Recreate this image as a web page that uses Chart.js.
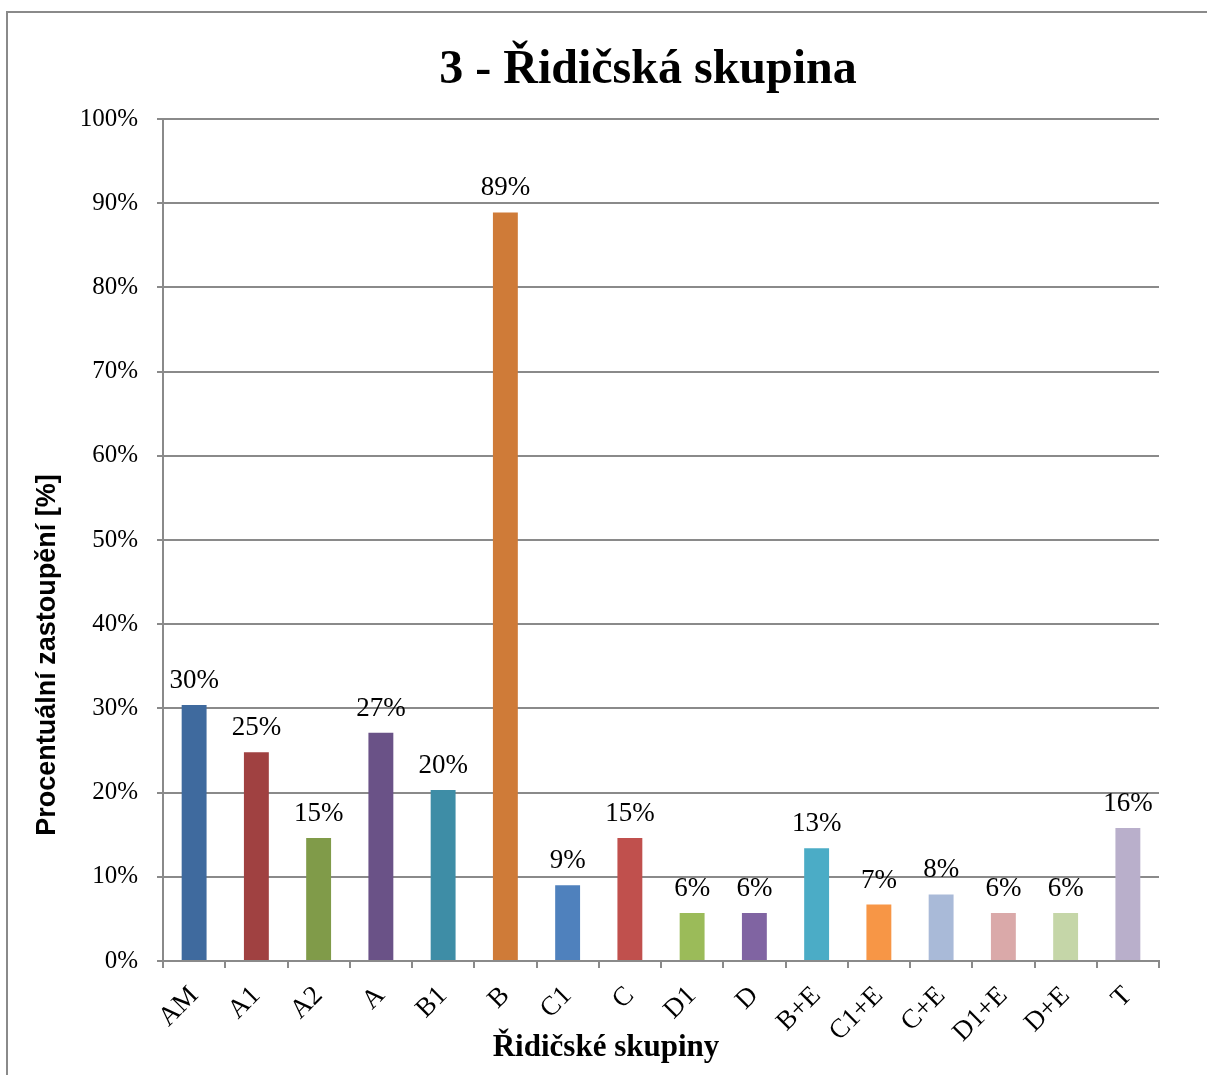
<!DOCTYPE html>
<html>
<head>
<meta charset="utf-8">
<script src="https://cdn.jsdelivr.net/npm/chart.js@4/dist/chart.umd.min.js"></script>
<style>
  html, body { margin: 0; padding: 0; background: #ffffff; }
  #wrap { width: 1207px; height: 1075px; position: relative; }
  canvas { display: block; }
</style>
</head>
<body>
<div id="wrap"><canvas id="c" width="1207" height="1075"></canvas></div>
<script>
// ---- Data ----
const chartTitle = '3 - Řidičská skupina';
const xAxisTitle = 'Řidičské skupiny';
const yAxisTitle = 'Procentuální zastoupění [%]';
const categories = ['AM', 'A1', 'A2', 'A', 'B1', 'B', 'C1', 'C', 'D1', 'D', 'B+E', 'C1+E', 'C+E', 'D1+E', 'D+E', 'T'];
const values = [30.4, 24.8, 14.6, 27.1, 20.3, 88.9, 9.0, 14.6, 5.7, 5.7, 13.4, 6.7, 7.9, 5.7, 5.7, 15.8];
const valueLabels = ['30%', '25%', '15%', '27%', '20%', '89%', '9%', '15%', '6%', '6%', '13%', '7%', '8%', '6%', '6%', '16%'];
const yTicks = [0, 10, 20, 30, 40, 50, 60, 70, 80, 90, 100];
const barColors = ['#3F6A9E', '#A04141', '#809B49', '#6A5287', '#3E8DA6', '#CF7B38', '#4F81BD', '#C0504D',
                   '#9BBB59', '#8064A2', '#4BACC6', '#F79646', '#A9BAD8', '#DAA9A9', '#C5D6A8', '#B9AFCB'];

const GRID = '#8a8a8a';
const SERIF = '"Liberation Serif", "Times New Roman", serif';
const SANS = '"Liberation Sans", Arial, sans-serif';

const decorPlugin = {
  id: 'decor',
  beforeDraw(chart) {
    const ctx = chart.ctx;
    ctx.save();
    ctx.fillStyle = '#ffffff';
    ctx.fillRect(0, 0, chart.width, chart.height);
    ctx.strokeStyle = GRID;
    ctx.lineWidth = 2;
    ctx.beginPath();
    ctx.moveTo(7, 1075);
    ctx.lineTo(7, 12);
    ctx.lineTo(1207, 12);
    ctx.stroke();
    ctx.restore();
  },
  afterDraw(chart) {
    const ctx = chart.ctx;
    ctx.save();
    ctx.fillStyle = '#000000';
    // chart title
    ctx.font = 'bold 48px ' + SERIF;
    ctx.textAlign = 'center';
    ctx.textBaseline = 'alphabetic';
    ctx.fillText(chartTitle, 648, 83);
    // x axis title
    ctx.font = 'bold 31px ' + SERIF;
    ctx.fillText(xAxisTitle, 606, 1056);
    // y axis title
    ctx.translate(48, 655);
    ctx.rotate(-Math.PI / 2);
    ctx.font = 'bold 27px ' + SANS;
    ctx.textBaseline = 'middle';
    ctx.fillText(yAxisTitle, 0, 0);
    ctx.restore();
  },
  afterDatasetsDraw(chart) {
    const ctx = chart.ctx;
    const meta = chart.getDatasetMeta(0);
    ctx.save();
    ctx.fillStyle = '#000000';
    ctx.font = '27px ' + SERIF;
    ctx.textAlign = 'center';
    ctx.textBaseline = 'alphabetic';
    meta.data.forEach((el, i) => {
      ctx.fillText(valueLabels[i], el.x, el.y - 17);
    });
    ctx.restore();
  }
};

new Chart(document.getElementById('c'), {
  type: 'bar',
  data: {
    labels: categories,
    datasets: [{
      data: values,
      backgroundColor: barColors,
      borderWidth: 0,
      barPercentage: 0.4,
      categoryPercentage: 1.0
    }]
  },
  options: {
    responsive: false,
    animation: false,
    devicePixelRatio: 1,
    layout: { padding: { left: 0, right: 48, top: 119, bottom: 0 } },
    plugins: {
      legend: { display: false },
      title: { display: false },
      tooltip: { enabled: false }
    },
    scales: {
      x: {
        grid: {
          display: true,
          drawOnChartArea: false,
          drawTicks: true,
          tickLength: 7,
          color: GRID,
          lineWidth: 2,
          offset: true
        },
        border: { display: true, color: GRID, width: 2 },
        ticks: {
          autoSkip: false,
          minRotation: 45,
          maxRotation: 45,
          padding: 12,
          color: '#000000',
          font: { family: SERIF, size: 27 }
        },
        afterFit(scale) { scale.height = 114; }
      },
      y: {
        min: 0,
        max: 100,
        afterBuildTicks(scale) { scale.ticks = yTicks.map(v => ({ value: v })); },
        grid: {
          color: GRID,
          lineWidth: 2,
          drawTicks: true,
          tickLength: 6
        },
        border: { display: true, color: GRID, width: 2 },
        ticks: {
          padding: 19,
          color: '#000000',
          font: { family: SERIF, size: 25 },
          callback: (v) => v + '%'
        },
        afterFit(scale) { scale.width = 163; }
      }
    }
  },
  plugins: [decorPlugin]
});
</script>
</body>
</html>
